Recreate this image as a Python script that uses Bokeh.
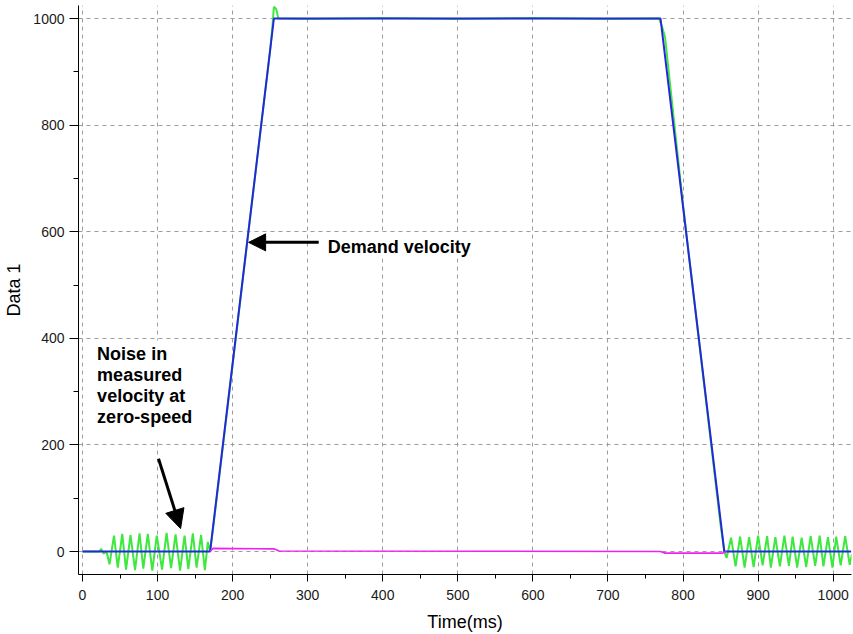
from bokeh.plotting import figure
from bokeh.models import Range1d, SingleIntervalTicker, Arrow, NormalHead, Label, BoxAnnotation
from bokeh.embed import file_html
from bokeh.resources import INLINE

# ---------------- data ----------------
demand_t = [0, 170, 255, 770, 855, 1024]
demand_v = [0, 0, 1000, 1000, 0, 0]

noise_left_t = [0, 22, 25, 28, 32, 36, 42, 47, 53, 58, 64, 70, 76, 81, 87,
                93, 99, 106, 112, 118, 124, 130, 136, 141, 147, 152, 158, 163, 167, 170]
noise_left_v = [0, 0, 5, -4, 0, -24, 30, -30, 33, -34, 31, -35, 34, -32, 33,
                -36, 30, -34, 35, -31, 32, -36, 30, -33, 34, -30, 31, -35, 18, 0]

measured_mid_t = [175, 200, 230, 250, 253, 255, 258, 261, 300, 400, 500, 600, 700,
                  768, 772, 776, 800, 830, 850, 855]
measured_mid_v = [55, 350, 705, 940, 985, 1022, 1018, 1000, 999, 1001, 999, 1001, 999,
                  1000, 985, 965, 650, 290, 50, 0]

noise_right_t = [858, 864, 870, 876, 882, 888, 894, 900, 906, 912, 917, 923, 929, 935, 941,
                 946, 952, 958, 964, 970, 976, 982, 987, 993, 999, 1004, 1010, 1016, 1022, 1025]
noise_right_v = [-12, 26, -28, 28, -30, 27, -29, 30, -26, 29, -30, 27, -28, 30, -27,
                 28, -30, 26, -29, 29, -27, 30, -28, 27, -30, 28, -26, 29, -25, -5]

error_t = [170, 174, 255, 262, 770, 776, 853, 858]
error_v = [0, 6, 5, 1, 0, -3, -3, 0]

x_label = "Time(ms)"
y_label = "Data 1"
demand_text = "Demand velocity"
noise_lines = ["Noise in", "measured", "velocity at", "zero-speed"]

measured_t = noise_left_t + measured_mid_t + noise_right_t
measured_v = noise_left_v + measured_mid_v + noise_right_v

# ---------------- figure ----------------
FONT = "Liberation Sans"
p = figure(width=853, height=634, output_backend="svg", toolbar_location=None,
           x_range=Range1d(-5.3, 1024.4), y_range=Range1d(-43.1, 1024.4),
           min_border_left=78, min_border_right=2, min_border_top=5, min_border_bottom=60,
           x_axis_label=x_label, y_axis_label=y_label)
p.outline_line_color = None
p.background_fill_color = "white"
p.border_fill_color = "white"

p.xaxis.ticker = SingleIntervalTicker(interval=100, num_minor_ticks=2)
p.yaxis.ticker = SingleIntervalTicker(interval=200, num_minor_ticks=2)

for ax in (p.xaxis[0], p.yaxis[0]):
    ax.axis_line_color = "black"
    ax.major_tick_line_color = "black"
    ax.minor_tick_line_color = "black"
    ax.major_tick_in = 0
    ax.minor_tick_in = 0
    ax.major_label_text_font = FONT
    ax.major_label_text_font_size = "14px"
    ax.major_label_text_color = "#1a1a1a"
    ax.axis_label_text_font = FONT
    ax.axis_label_text_font_size = "18px"
    ax.axis_label_text_font_style = "normal"
    ax.axis_label_text_color = "black"

p.xaxis.major_tick_out = 7
p.xaxis.minor_tick_out = 4
p.xaxis.major_label_standoff = 8
p.xaxis.axis_label_standoff = 9
p.yaxis.major_tick_out = 9
p.yaxis.minor_tick_out = 5
p.yaxis.major_label_standoff = 5
p.yaxis.axis_label_standoff = 6

for g in (p.xgrid[0], p.ygrid[0]):
    g.grid_line_color = "#9c9c9c"
    g.grid_line_dash = "4 4"
    g.grid_line_width = 1

# white backgrounds behind the annotation texts (hide the grid)
p.add_layout(BoxAnnotation(left=4, right=177, bottom=208, top=396,
                           fill_color="white", fill_alpha=1.0, line_color=None, level="underlay"))
p.add_layout(BoxAnnotation(left=324, right=531, bottom=550, top=597,
                           fill_color="white", fill_alpha=1.0, line_color=None, level="underlay"))

# ---------------- series ----------------
p.line(measured_t, measured_v, line_color="#3ee83e", line_width=2)
p.line(demand_t, demand_v, line_color="#2626dc", line_width=2)
p.line(error_t, error_v, line_color="#ee22ee", line_width=1.6)

# ---------------- annotations ----------------
p.add_layout(Arrow(end=NormalHead(size=17, fill_color="black", line_color="black"),
                   x_start=314.7, y_start=580, x_end=221.3, y_end=580,
                   line_color="black", line_width=3))
p.add_layout(Label(x=326.7, y=561, y_offset=6, text=demand_text, text_font=FONT,
                   text_font_size="18px", text_font_style="bold", text_color="black",
                   text_baseline="alphabetic"))

p.add_layout(Arrow(end=NormalHead(size=19, fill_color="black", line_color="black"),
                   x_start=101.3, y_start=174, x_end=130.7, y_end=43,
                   line_color="black", line_width=3))
for i, line in enumerate(noise_lines):
    p.add_layout(Label(x=19.5, y=358, y_offset=7 - 21 * i, text=line, text_font=FONT,
                       text_font_size="18px", text_font_style="bold", text_color="black",
                       text_baseline="alphabetic"))

open("out.html", "w").write(file_html(p, INLINE))
